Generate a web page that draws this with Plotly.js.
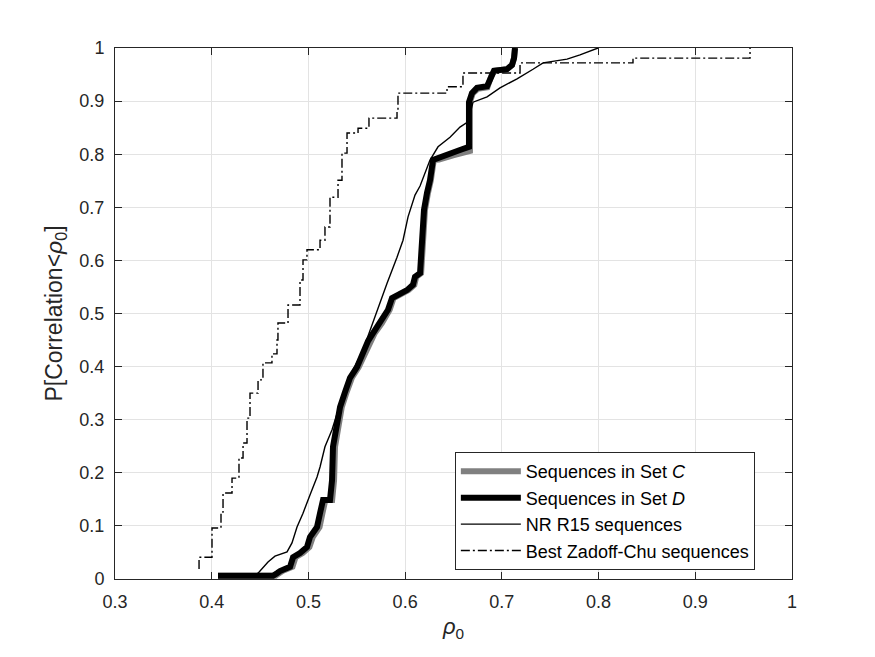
<!DOCTYPE html>
<html>
<head>
<meta charset="utf-8">
<script src="https://cdn.plot.ly/plotly-3.0.1.min.js"></script>
<style>html,body{margin:0;padding:0;background:#fff;}#chart{width:875px;height:657px;}</style>
</head>
<body>
<div id="chart"></div>
<script>
// Sequences in Set C (gray, thick)
var setC_x = [0.4065,0.4660,0.4700,0.4730,0.4835,0.4866,0.4940,0.5010,0.5045,0.5115,0.5145,0.5175,0.5245,0.5265,0.5275,0.5315,0.5345,0.5395,0.5450,0.5520,0.5585,0.5635,0.5685,0.5760,0.5840,0.5880,0.5945,0.6035,0.6095,0.6115,0.6165,0.6185,0.6205,0.6236,0.6266,0.6296,0.6350,0.6495,0.6575,0.6670,0.6670,0.6700,0.6750,0.6850,0.6890,0.6920,0.7053,0.7105,0.7126,0.7136];
var setC_y = [0.006,0.006,0.011,0.015,0.023,0.041,0.049,0.060,0.079,0.098,0.124,0.149,0.149,0.186,0.249,0.286,0.324,0.352,0.379,0.399,0.426,0.448,0.463,0.482,0.507,0.529,0.535,0.544,0.554,0.569,0.576,0.633,0.695,0.727,0.751,0.789,0.790,0.798,0.803,0.806,0.898,0.915,0.923,0.926,0.947,0.957,0.960,0.968,0.981,1.0];

// Sequences in Set D (black, thick)
var setD_x = [0.4065,0.4634,0.4675,0.4706,0.4810,0.4841,0.4913,0.4985,0.5016,0.5089,0.5120,0.5151,0.5223,0.5244,0.5254,0.5296,0.5327,0.5378,0.5430,0.5502,0.5564,0.5616,0.5668,0.5740,0.5823,0.5864,0.5926,0.6019,0.6081,0.6102,0.6154,0.6174,0.6195,0.6226,0.6257,0.6288,0.6340,0.6485,0.6567,0.6660,0.6660,0.6691,0.6743,0.6847,0.6888,0.6919,0.7053,0.7105,0.7126,0.7136];
var setD_y = [0.006,0.006,0.011,0.015,0.023,0.041,0.049,0.060,0.079,0.098,0.124,0.149,0.149,0.186,0.249,0.286,0.324,0.352,0.379,0.399,0.426,0.448,0.463,0.482,0.507,0.529,0.535,0.544,0.554,0.569,0.576,0.633,0.695,0.727,0.751,0.789,0.793,0.802,0.808,0.814,0.898,0.915,0.925,0.928,0.947,0.957,0.960,0.968,0.981,1.0];

// NR R15 sequences (thin solid)
var nr_x = [0.4417,0.4479,0.4582,0.4654,0.4779,0.4830,0.4882,0.4944,0.5016,0.5089,0.5120,0.5171,0.5244,0.5296,0.5347,0.5399,0.5461,0.5554,0.5637,0.5709,0.5813,0.5916,0.5978,0.6030,0.6102,0.6154,0.6257,0.6340,0.6464,0.6567,0.6650,0.6702,0.6847,0.6981,0.7157,0.7322,0.7426,0.7674,0.7808,0.7994];
var nr_y = [0.004,0.011,0.032,0.043,0.051,0.068,0.098,0.124,0.158,0.192,0.211,0.249,0.281,0.313,0.341,0.367,0.394,0.426,0.469,0.507,0.557,0.606,0.638,0.682,0.723,0.740,0.789,0.814,0.832,0.851,0.861,0.898,0.908,0.925,0.942,0.960,0.972,0.979,0.987,1.0];

// Best Zadoff-Chu sequences (dash-dot), step points
var zc_x = [0.3869,0.3869,0.4003,0.4096,0.4117,0.4210,0.4282,0.4324,0.4365,0.4396,0.4479,0.4530,0.4623,0.4675,0.4685,0.4789,0.4913,0.4944,0.4985,0.5120,0.5171,0.5223,0.5306,0.5347,0.5399,0.5513,0.5626,0.5916,0.5926,0.6433,0.6598,0.7188,0.8356,0.9566];
var zc_y = [0.019,0.041,0.096,0.126,0.162,0.190,0.228,0.256,0.303,0.350,0.375,0.407,0.424,0.450,0.482,0.516,0.563,0.601,0.620,0.638,0.663,0.719,0.751,0.802,0.840,0.849,0.868,0.883,0.915,0.927,0.953,0.972,0.981,1.0];

var xTicks = [0.3,0.4,0.5,0.6,0.7,0.8,0.9,1];
var yTicks = [0,0.1,0.2,0.3,0.4,0.5,0.6,0.7,0.8,0.9,1];
var xTickText = ['0.3','0.4','0.5','0.6','0.7','0.8','0.9','1'];
var yTickText = ['0','0.1','0.2','0.3','0.4','0.5','0.6','0.7','0.8','0.9','1'];

var FONT = 'Liberation Sans, Arial, Helvetica, sans-serif';

var traces = [
  {x: setC_x, y: setC_y, mode: 'lines', name: 'Sequences in Set <i>C</i>',
   line: {color: '#808080', width: 6, shape: 'linear'}},
  {x: setD_x, y: setD_y, mode: 'lines', name: 'Sequences in Set <i>D</i>',
   line: {color: '#000000', width: 6, shape: 'linear'}},
  {x: nr_x, y: nr_y, mode: 'lines', name: 'NR R15 sequences',
   line: {color: '#000000', width: 1.4, shape: 'linear'}},
  {x: zc_x, y: zc_y, mode: 'lines', name: 'Best Zadoff-Chu sequences',
   line: {color: '#000000', width: 1.4, shape: 'hv', dash: '9px,3px,2px,3px'}}
];

var axisCommon = {
  showline: true, linecolor: '#262626', linewidth: 1, mirror: 'ticks',
  ticks: 'inside', ticklen: 7, tickcolor: '#262626',
  showgrid: true, gridcolor: '#e3e3e3', gridwidth: 1, zeroline: false,
  tickfont: {family: FONT, size: 18, color: '#262626'}
};

var layout = {
  width: 875, height: 657,
  margin: {l: 115, r: 83, t: 48, b: 78},
  paper_bgcolor: '#ffffff', plot_bgcolor: '#ffffff',
  showlegend: true,
  xaxis: Object.assign({}, axisCommon, {
    range: [0.3, 1], tickvals: xTicks, ticktext: xTickText,
    ticklabelstandoff: 6,
    title: {text: '<i>ρ</i><sub>0</sub>', standoff: 8,
            font: {family: FONT, size: 22, color: '#262626'}}
  }),
  yaxis: Object.assign({}, axisCommon, {
    range: [0, 1], tickvals: yTicks, ticktext: yTickText,
    ticklabelstandoff: 6,
    title: {text: 'P[Correlation<<i>ρ</i><sub>0</sub>]', standoff: 10,
            font: {family: FONT, size: 23, color: '#262626'}}
  }),
  legend: {
    x: 0.502, y: 0.239, xanchor: 'left', yanchor: 'top',
    bgcolor: '#ffffff', bordercolor: '#262626', borderwidth: 1,
    font: {family: FONT, size: 18, color: '#000000'},
    itemwidth: 60,
    tracegroupgap: 0
  }
};

Plotly.newPlot('chart', traces, layout, {displayModeBar: false, staticPlot: true});
</script>
</body>
</html>
